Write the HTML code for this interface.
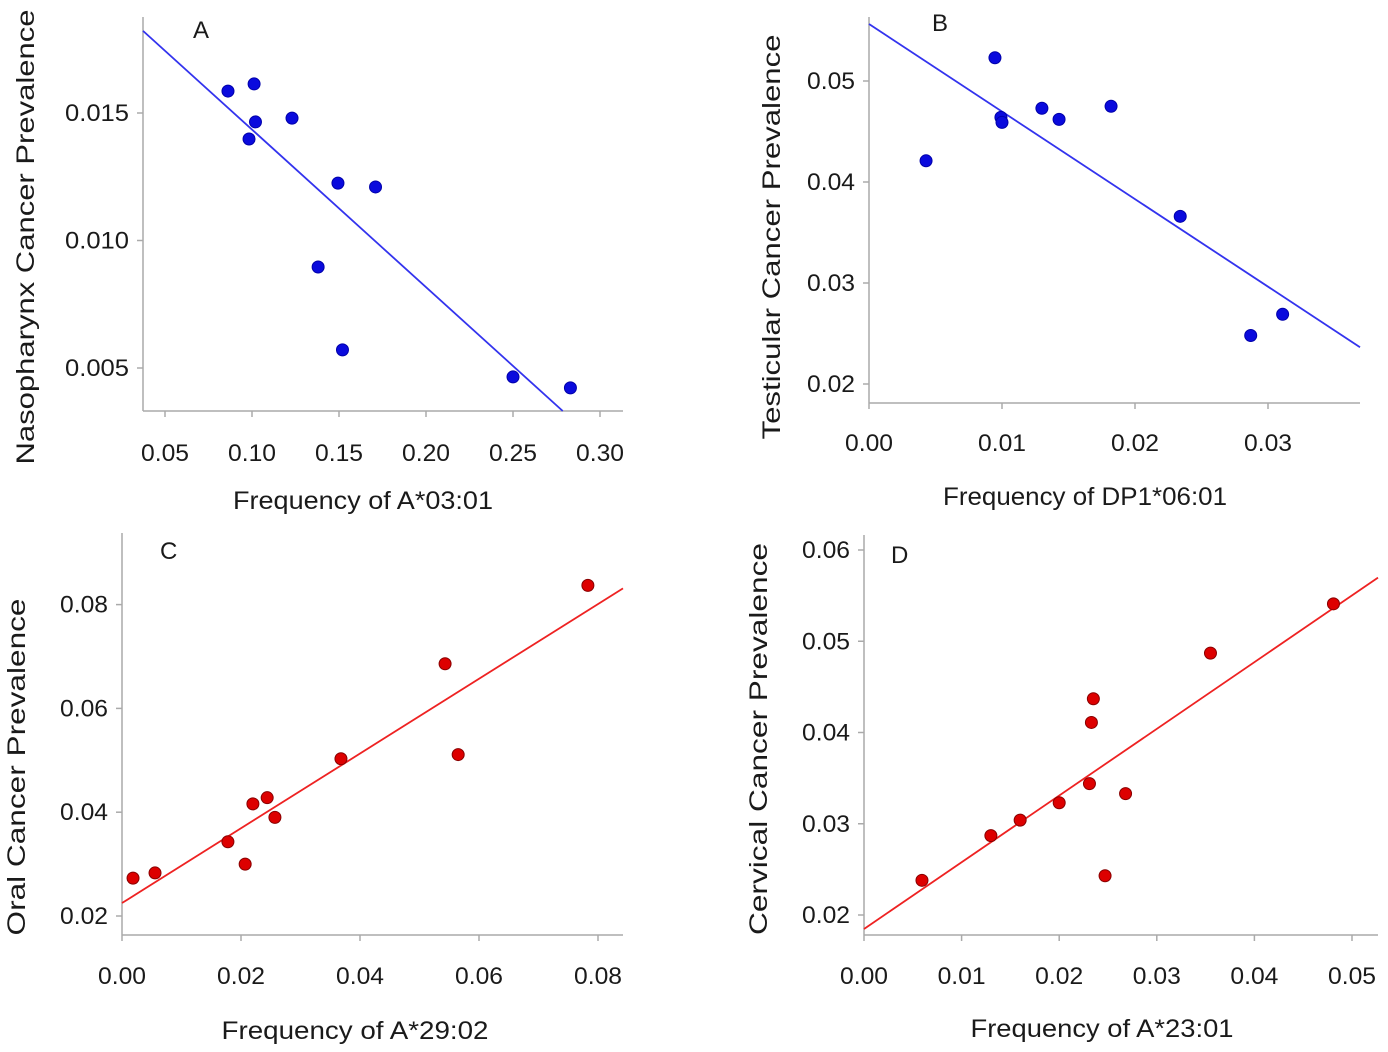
<!DOCTYPE html>
<html><head><meta charset="utf-8"><style>
body{margin:0;background:#fff}
svg{display:block}
text{font-family:"Liberation Sans",sans-serif;fill:#1a1a1a}
</style></head><body>
<svg id="c" width="1388" height="1052" viewBox="0 0 1388 1052" xmlns="http://www.w3.org/2000/svg"></svg>
<script>
// Panel A
const aX=[0.0862,0.1012,0.102,0.0983,0.123,0.1494,0.171,0.138,0.152,0.25,0.283];
const aY=[0.01586,0.01614,0.01465,0.01398,0.0148,0.01225,0.0121,0.00896,0.00571,0.00465,0.00422];
const aXTicks=[0.05,0.10,0.15,0.20,0.25,0.30];
const aYTicks=[0.005,0.010,0.015];
const aFit=[-0.0618,0.02053];
// Panel B
const bX=[0.00429,0.00947,0.00992,0.0100,0.0130,0.01429,0.0182,0.0234,0.0287,0.0311];
const bY=[0.0421,0.0523,0.0464,0.0459,0.0473,0.0462,0.0475,0.0366,0.0248,0.0269];
const bXTicks=[0.00,0.01,0.02,0.03];
const bYTicks=[0.02,0.03,0.04,0.05];
const bFit=[-0.8667,0.05564];
// Panel C
const cX=[0.00185,0.00555,0.0178,0.0207,0.0220,0.0244,0.0257,0.0368,0.0543,0.0565,0.0783];
const cY=[0.0273,0.0283,0.0343,0.0300,0.0416,0.0428,0.0390,0.0503,0.0686,0.0511,0.0837];
const cXTicks=[0.00,0.02,0.04,0.06,0.08];
const cYTicks=[0.02,0.04,0.06,0.08];
const cFit=[0.72,0.0225];
// Panel D
const dX=[0.00594,0.0130,0.0160,0.0200,0.0231,0.0233,0.0235,0.0247,0.0268,0.0355,0.0481];
const dY=[0.0238,0.0287,0.0304,0.0323,0.0344,0.0411,0.0437,0.0243,0.0333,0.0487,0.0541];
const dXTicks=[0.00,0.01,0.02,0.03,0.04,0.05];
const dYTicks=[0.02,0.03,0.04,0.05,0.06];
const dFit=[0.731,0.01847];

const NS="http://www.w3.org/2000/svg";
const svg=document.getElementById('c');
function el(t,a,p){const e=document.createElementNS(NS,t);for(const k in a)e.setAttribute(k,a[k]);(p||svg).appendChild(e);return e;}

function panel(o){
  const g=el('g',{});
  
  
  const sx=v=>o.x0px+(v-o.x0v)*o.xk;
  const sy=v=>o.y0px-(v-o.y0v)*o.yk;
  const L=o.left,R=o.right,T=o.top,B=o.bottom;
  const xa=el('line',{x1:L,y1:B,x2:R,y2:B,stroke:'#aaa','stroke-width':1.5},g);
  
  
  const ya=el('line',{x1:L,y1:T,x2:L,y2:B,stroke:'#aaa','stroke-width':1.5},g);
  
  
  o.xt.forEach(v=>{const x=sx(v);
    el('line',{x1:x,y1:B,x2:x,y2:B+6,stroke:'#aaa','stroke-width':1.5},g);
    const t=el('text',{x:x,y:B+o.xto,'text-anchor':'middle','font-size':24,textLength:o.xtw,lengthAdjust:'spacingAndGlyphs'},g);t.textContent=v.toFixed(2);
    
    });
  o.yt.forEach(v=>{const y=sy(v);
    el('line',{x1:L-6,y1:y,x2:L,y2:y,stroke:'#aaa','stroke-width':1.5},g);
    const t=el('text',{x:L-14,y:y+8,'text-anchor':'end','font-size':24,textLength:o.ytw,lengthAdjust:'spacingAndGlyphs'},g);t.textContent=v.toFixed(o.yd);
    
    });
  const xt=el('text',{x:o.xtx,y:o.xty,'text-anchor':'middle','font-size':25,textLength:o.xlw,lengthAdjust:'spacingAndGlyphs'},g);xt.textContent=o.xlab;
  
  
  const yt=el('text',{x:0,y:0,'text-anchor':'middle','font-size':25,textLength:o.ylw,lengthAdjust:'spacingAndGlyphs',transform:`translate(${o.ytx},${o.yty}) rotate(-90)`},g);yt.textContent=o.ylab;
  
  
  const pl=el('text',{x:o.lx,y:o.ly,'font-size':24},g);pl.textContent=o.id;
  
  
  const [m,b]=o.fit;
  const xmin=o.x0v+(L-o.x0px)/o.xk, xmax=o.x0v+(R-o.x0px)/o.xk;
  const ymin=o.y0v-(B-o.y0px)/o.yk, ymax=o.y0v-(T-o.y0px)/o.yk;
  let x1=xmin,x2=xmax;
  const xAt=y=>(y-b)/m;
  [ymin,ymax].forEach(y=>{const xx=xAt(y); if(m<0){ if(y===ymax&&xx>x1)x1=xx; if(y===ymin&&xx<x2)x2=xx;} else { if(y===ymin&&xx>x1)x1=xx; if(y===ymax&&xx<x2)x2=xx;}});
  const fl=el('line',{x1:sx(x1),y1:sy(m*x1+b),x2:sx(x2),y2:sy(m*x2+b),stroke:o.lc,'stroke-width':1.8},g);
  
  
  o.xs.forEach((v,i)=>{const c=el('circle',{cx:sx(v),cy:sy(o.ys[i]),r:6,fill:o.pc,stroke:o.ps,'stroke-width':1},g);
    
    });
}
panel({id:'A',xs:aX,ys:aY,xt:aXTicks,yt:aYTicks,fit:aFit,yd:3,x0px:165,x0v:0.05,xk:1740,y0px:113,y0v:0.015,yk:25500,
  left:143,right:623,top:17,bottom:411,xto:50,xtw:48,ytw:64,xlab:'Frequency of A*03:01',xlw:260,xtx:363,xty:509,ylab:'Nasopharynx Cancer Prevalence',ylw:455,ytx:34,yty:237,lx:193,ly:38,lc:'#3333ee',pc:'#0a0add',ps:'#0000aa'});
panel({id:'B',xs:bX,ys:bY,xt:bXTicks,yt:bYTicks,fit:bFit,yd:2,x0px:869,x0v:0,xk:13300,y0px:81,y0v:0.05,yk:10100,
  left:869,right:1360,top:17,bottom:403,xto:48,xtw:48,ytw:48,xlab:'Frequency of DP1*06:01',xlw:284,xtx:1085,xty:505,ylab:'Testicular Cancer Prevalence',ylw:405,ytx:780,yty:237,lx:932,ly:31,lc:'#3333ee',pc:'#0a0add',ps:'#0000aa'});
panel({id:'C',xs:cX,ys:cY,xt:cXTicks,yt:cYTicks,fit:cFit,yd:2,x0px:122,x0v:0,xk:5950,y0px:916,y0v:0.02,yk:5190,
  left:122,right:623,top:533,bottom:935,xto:49,xtw:48,ytw:48,xlab:'Frequency of A*29:02',xlw:267,xtx:355,xty:1039,ylab:'Oral Cancer Prevalence',ylw:337,ytx:25,yty:767,lx:160,ly:559,lc:'#ee2222',pc:'#dd0000',ps:'#880000'});
panel({id:'D',xs:dX,ys:dY,xt:dXTicks,yt:dYTicks,fit:dFit,yd:2,x0px:864,x0v:0,xk:9760,y0px:915,y0v:0.02,yk:9125,
  left:864,right:1378,top:535,bottom:935,xto:49,xtw:48,ytw:48,xlab:'Frequency of A*23:01',xlw:263,xtx:1102,xty:1037,ylab:'Cervical Cancer Prevalence',ylw:392,ytx:767,yty:739,lx:891,ly:563,lc:'#ee2222',pc:'#dd0000',ps:'#880000'});
</script>
</body></html>
